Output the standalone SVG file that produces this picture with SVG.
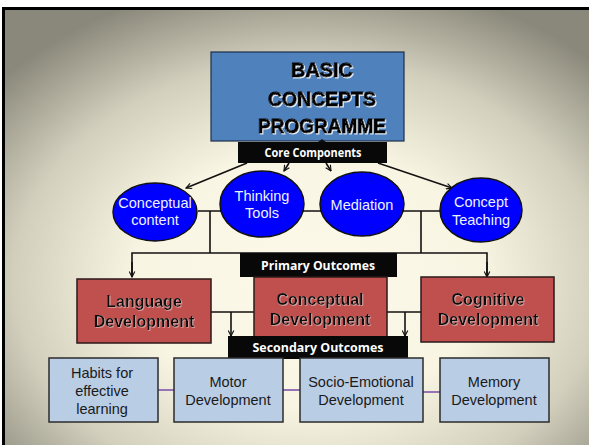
<svg xmlns="http://www.w3.org/2000/svg" width="589" height="445" viewBox="0 0 589 445">
<defs>
<radialGradient id="bg" cx="52%" cy="62%" r="70%" fx="52%" fy="62%">
<stop offset="0" stop-color="#fdf9ea"/>
<stop offset="0.42" stop-color="#f9f5e3"/>
<stop offset="0.72" stop-color="#d2cfbd"/>
<stop offset="1" stop-color="#8a887a"/>
</radialGradient>
<marker id="ah" viewBox="0 0 10 10" refX="9" refY="5" markerWidth="7" markerHeight="7" orient="auto" markerUnits="userSpaceOnUse">
<path d="M1,1 L9,5 L1,9" fill="none" stroke="#111" stroke-width="1.6"/>
</marker>
<filter id="halo" x="-10%" y="-20%" width="120%" height="140%">
<feDropShadow dx="1" dy="1" stdDeviation="0.4" flood-color="#ffffff" flood-opacity="0.9"/>
</filter>
<filter id="soft" x="-10%" y="-20%" width="120%" height="140%">
<feDropShadow dx="0.8" dy="0.8" stdDeviation="0.3" flood-color="#ffffff" flood-opacity="0.5"/>
</filter>
</defs>
<style>
.ell{fill:#0000ff;stroke:#111;stroke-width:1.5}
.et{font-family:"Liberation Sans",Arial,sans-serif;font-size:14.5px;fill:#eef2ff;text-anchor:middle}
.red{fill:#c0504d;stroke:#2a1a1a;stroke-width:1.5}
.rt{font-family:"Liberation Sans",Arial,sans-serif;font-size:16px;font-weight:bold;fill:#111;text-anchor:middle}
.blu{fill:#b9cde5;stroke:#2b2b2b;stroke-width:1.5}
.bt{font-family:"Liberation Sans",Arial,sans-serif;font-size:14.5px;fill:#1a1a1a;text-anchor:middle}
.lbl{fill:#080808}
.lt{font-family:"Open Sans","DejaVu Sans",sans-serif;font-weight:bold;font-size:12px;fill:#ffffff;text-anchor:middle}
.ln{fill:none;stroke:#111;stroke-width:1.6}
.pl{fill:none;stroke:#9573b5;stroke-width:2}
.tt{font-family:"Liberation Sans",Arial,sans-serif;font-weight:bold;font-size:21px;fill:#000;stroke:#000;stroke-width:0.9;text-anchor:middle}
</style>
<rect x="0" y="0" width="589" height="445" fill="#ffffff"/>
<rect x="2" y="7" width="587" height="438" fill="#000"/>
<rect x="5" y="10" width="584" height="435" fill="url(#bg)"/>

<g id="connectors">
<line class="ln" x1="198" y1="211" x2="440" y2="211"/>
<polyline class="ln" points="210,211 210,253"/>
<polyline class="ln" points="421,211 421,253"/>
<polyline class="ln" points="132,277 132,253 487,253 487,277"/>
<line class="ln" x1="132" y1="262" x2="132" y2="277" marker-end="url(#ah)"/>
<line class="ln" x1="487" y1="262" x2="487" y2="277" marker-end="url(#ah)"/>
<line class="ln" x1="247" y1="163" x2="186" y2="188" marker-end="url(#ah)"/>
<line class="ln" x1="289" y1="163" x2="284" y2="171" marker-end="url(#ah)"/>
<line class="ln" x1="326" y1="163" x2="331" y2="171" marker-end="url(#ah)"/>
<line class="ln" x1="378" y1="163" x2="452" y2="188" marker-end="url(#ah)"/>
<line class="ln" x1="211" y1="312" x2="254" y2="312"/>
<line class="ln" x1="387" y1="312" x2="421" y2="312"/>
<line class="ln" x1="231" y1="312" x2="231" y2="336" marker-end="url(#ah)"/>
<line class="ln" x1="405" y1="312" x2="405" y2="336" marker-end="url(#ah)"/>
<line class="pl" x1="158" y1="390" x2="174" y2="390"/>
<line class="pl" x1="283" y1="390" x2="300" y2="390"/>
<line class="pl" x1="423" y1="392" x2="440" y2="392"/>
</g>

<g id="title">
<rect x="211" y="52" width="193" height="89" fill="#4f81bd" stroke="#1d2f4a" stroke-width="1.2"/>
<text class="tt" x="322" y="77" filter="url(#halo)" textLength="62" lengthAdjust="spacingAndGlyphs">BASIC</text>
<text class="tt" x="322" y="106" filter="url(#halo)" textLength="108" lengthAdjust="spacingAndGlyphs">CONCEPTS</text>
<text class="tt" x="322" y="133" filter="url(#halo)" textLength="128" lengthAdjust="spacingAndGlyphs">PROGRAMME</text>
</g>

<g id="core-components">
<rect class="lbl" x="238" y="142" width="149" height="21"/>
<path d="M318,142 L322,139 L326,142 Z" fill="#111"/>
<text class="lt" x="313" y="157" textLength="97" lengthAdjust="spacingAndGlyphs">Core Components</text>
</g>

<g id="conceptual-content">
<ellipse class="ell" cx="155" cy="212" rx="42" ry="29"/>
<text class="et" x="155" y="208">Conceptual</text>
<text class="et" x="155" y="225">content</text>
</g>
<g id="thinking-tools">
<ellipse class="ell" cx="262" cy="204" rx="42" ry="33"/>
<text class="et" x="262" y="201">Thinking</text>
<text class="et" x="262" y="218">Tools</text>
</g>
<g id="mediation">
<ellipse class="ell" cx="362" cy="204" rx="42" ry="32"/>
<text class="et" x="362" y="210">Mediation</text>
</g>
<g id="concept-teaching">
<ellipse class="ell" cx="481" cy="210" rx="41" ry="32"/>
<text class="et" x="481" y="207">Concept</text>
<text class="et" x="481" y="225">Teaching</text>
</g>

<g id="primary-outcomes">
<rect class="lbl" x="240" y="253" width="157" height="24"/>
<text class="lt" x="318" y="270" textLength="114" lengthAdjust="spacingAndGlyphs">Primary Outcomes</text>
</g>

<g id="language-development">
<rect class="red" x="77" y="279" width="134" height="64"/>
<text class="rt" x="144" y="307" filter="url(#soft)">Language</text>
<text class="rt" x="144" y="327" filter="url(#soft)">Development</text>
</g>
<g id="conceptual-development">
<rect class="red" x="254" y="277" width="133" height="65"/>
<text class="rt" x="320" y="305" filter="url(#soft)">Conceptual</text>
<text class="rt" x="320" y="325" filter="url(#soft)">Development</text>
</g>
<g id="cognitive-development">
<rect class="red" x="421" y="277" width="133" height="65"/>
<text class="rt" x="488" y="305" filter="url(#soft)">Cognitive</text>
<text class="rt" x="488" y="325" filter="url(#soft)">Development</text>
</g>

<g id="secondary-outcomes">
<rect class="lbl" x="228" y="336" width="180" height="23"/>
<text class="lt" x="318" y="352" textLength="131" lengthAdjust="spacingAndGlyphs">Secondary Outcomes</text>
</g>

<g id="habits">
<rect class="blu" x="49" y="358" width="109" height="64"/>
<text class="bt" x="102" y="378">Habits for</text>
<text class="bt" x="102" y="396">effective</text>
<text class="bt" x="102" y="414">learning</text>
</g>
<g id="motor-development">
<rect class="blu" x="174" y="358" width="109" height="64"/>
<text class="bt" x="228" y="387">Motor</text>
<text class="bt" x="228" y="405">Development</text>
</g>
<g id="socio-emotional-development">
<rect class="blu" x="300" y="358" width="123" height="64"/>
<text class="bt" x="361" y="387">Socio-Emotional</text>
<text class="bt" x="361" y="405">Development</text>
</g>
<g id="memory-development">
<rect class="blu" x="440" y="358" width="109" height="64"/>
<text class="bt" x="494" y="387">Memory</text>
<text class="bt" x="494" y="405">Development</text>
</g>
</svg>
